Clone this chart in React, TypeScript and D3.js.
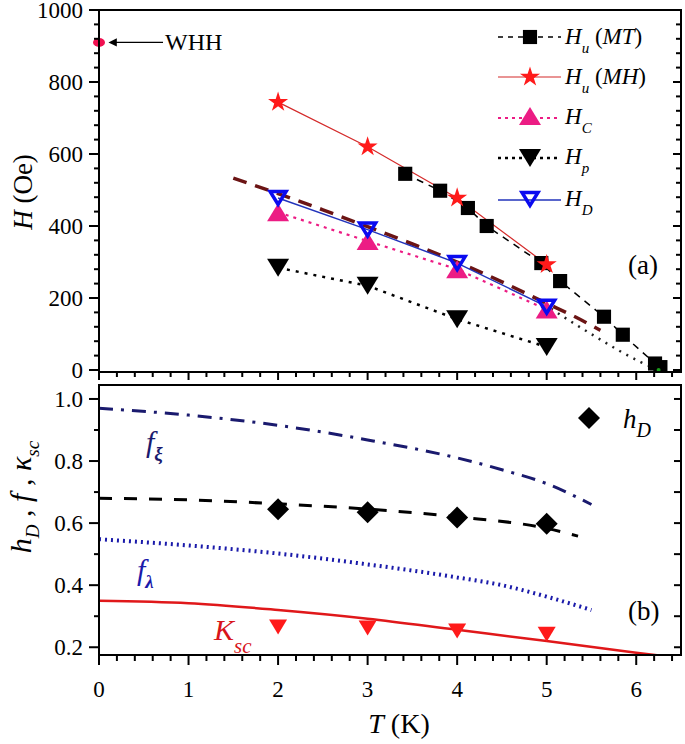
import React from 'react';
import * as d3 from 'd3';

// ---------- Top panel data (T in K, H in Oe) ----------
const huMT_T = [3.42, 3.81, 4.12, 4.33, 4.94, 5.15, 5.64, 5.85, 6.21, 6.27];
const huMT_H = [545, 498, 450, 400, 297, 247, 148, 98, 18, 8];
const pts_T = [2, 3, 4, 5];
const huMH_H = [744, 620, 478, 293];
const hc_H = [438, 358, 280, 168];
const hp_H = [284, 234, 141, 64];
const hd_H = [478, 390, 297, 176];
const fit_T = [1.5, 2, 2.5, 3, 3.5, 4, 4.5, 5, 5.3, 5.6];
const fit_H = [533, 490, 445, 398, 350, 300, 245, 185, 150, 110];
const ext_T = [5.05, 5.3, 5.55, 5.8, 6.05, 6.25];
const ext_H = [170, 130, 92, 55, 22, 0];
const whh_T = 0;
const whh_H = 910;
const yTopTicks = [0, 200, 400, 600, 800, 1000];

// ---------- Bottom panel data ----------
const curve_T = [0, 1, 2, 3, 4, 4.5, 5, 5.5];
const fxi = [0.97, 0.948, 0.915, 0.868, 0.81, 0.772, 0.727, 0.66];
const flam = [0.548, 0.528, 0.502, 0.467, 0.425, 0.4, 0.363, 0.32];
const hdFit_T = [0, 1, 2, 3, 4, 5, 5.35];
const hdFit = [0.68, 0.675, 0.662, 0.645, 0.62, 0.583, 0.558];
const hdPts = [0.645, 0.635, 0.618, 0.598];
const kap_T = [0, 1, 2, 3, 4, 5, 6, 6.5];
const kap = [0.35, 0.342, 0.32, 0.292, 0.256, 0.22, 0.182, 0.165];
const kapPts = [0.265, 0.262, 0.252, 0.242];
const yBotTicks = [0.2, 0.4, 0.6, 0.8, 1.0];
const xTicks = [0, 1, 2, 3, 4, 5, 6];

const x = d3.scaleLinear([0, 6.5], [99, 681]);
const yT = d3.scaleLinear([0, 1000], [370, 10]);
const yB = d3.scaleLinear([0.175, 1.045], [655, 385]);

const zip = (a: number[], b: number[]) => a.map((v, i) => [v, b[i]] as [number, number]);

const lineT = d3.line<[number, number]>().x(d => x(d[0])).y(d => yT(d[1]));
const curveT = d3.line<[number, number]>().x(d => x(d[0])).y(d => yT(d[1])).curve(d3.curveMonotoneX);
const curveB = d3.line<[number, number]>().x(d => x(d[0])).y(d => yB(d[1])).curve(d3.curveMonotoneX);

const sq = d3.symbol(d3.symbolSquare, 200)()!;
const star = d3.symbol(d3.symbolStar, 125)()!;
const tri = (w: number, h: number, down: boolean) =>
  down ? `M${-w / 2},${-h / 2}L${w / 2},${-h / 2}L0,${h / 2}Z` : `M${-w / 2},${h / 2}L${w / 2},${h / 2}L0,${-h / 2}Z`;
const diamond = (r: number) => `M0,${-r}L${r},0L0,${r}L${-r},0Z`;

const RED = '#ff1a1a';
const MAG = '#ec1c84';
const BLUE = '#0a0af0';
const NAVY = '#1a1a6e';

type TP = React.SVGProps<SVGTextElement>;
const T = (p: TP) => <text {...p} style={{ fontFamily: `'Liberation Serif'` }} />;

export default function App() {
  const topMinor = d3.range(0, 1001, 40);
  const botMinor = d3.range(0.2, 1.01, 0.1);
  const xMinor = d3.range(0, 6.51, 0.2);
  return (
    <svg width={685} height={744} style={{ position: 'absolute', left: 0, top: 0, background: '#fff' }}>
      <defs>
        <clipPath id="clipT"><rect x={99} y={10} width={582} height={362} /></clipPath>
        <clipPath id="clipB"><rect x={99} y={385} width={582} height={270} /></clipPath>
        <marker id="arr" viewBox="0 0 10 10" refX={1} refY={5} markerWidth={7} markerHeight={7} orient="auto-start-reverse">
          <path d="M0,0L10,5L0,10Z" fill="#000" />
        </marker>
      </defs>

      {/* ---------------- Top panel ---------------- */}
      <g clipPath="url(#clipT)">
        <path d={curveT(zip(fit_T, fit_H))!} fill="none" stroke="#6b1414" strokeWidth={3.5} strokeDasharray="14,9" />
        <path d={curveT(zip(ext_T, ext_H))!} fill="none" stroke="#222" strokeWidth={2.5} strokeDasharray="2,6" />
        <path d={lineT(zip(huMT_T, huMT_H))!} fill="none" stroke="#000" strokeWidth={1.5} strokeDasharray="7,6" />
        <path d={lineT(zip(pts_T, huMH_H))!} fill="none" stroke="#d42a2a" strokeWidth={1.2} />
        <path d={lineT(zip(pts_T, hc_H))!} fill="none" stroke={MAG} strokeWidth={2.2} strokeDasharray="3,5" />
        <path d={lineT(zip(pts_T, hp_H))!} fill="none" stroke="#000" strokeWidth={2.5} strokeDasharray="3,6" />
        <path d={lineT(zip(pts_T, hd_H))!} fill="none" stroke="#2233bb" strokeWidth={1.5} />
        {huMT_T.map((t, i) => <path key={'s' + i} d={sq} transform={`translate(${x(t)},${yT(huMT_H[i])})`} fill="#000" />)}
        {pts_T.map((t, i) => <path key={'c' + i} d={tri(22, 18, false)} transform={`translate(${x(t)},${yT(hc_H[i])})`} fill={MAG} />)}
        {pts_T.map((t, i) => <path key={'p' + i} d={tri(22, 18, true)} transform={`translate(${x(t)},${yT(hp_H[i])})`} fill="#000" />)}
        {pts_T.map((t, i) => <path key={'d' + i} d={tri(16, 13, true)} transform={`translate(${x(t)},${yT(hd_H[i])})`} fill="none" stroke={BLUE} strokeWidth={3.5} />)}
        {pts_T.map((t, i) => <path key={'m' + i} d={star} transform={`translate(${x(t)},${yT(huMH_H[i])})`} fill={RED} />)}
        <circle cx={x(6.25)} cy={yT(0)} r={2} fill="#1a9a1a" />
      </g>
      <ellipse cx={x(whh_T)} cy={yT(whh_H)} rx={6} ry={4.5} fill="#f01050" />
      <line x1={163} y1={yT(whh_H)} x2={116} y2={yT(whh_H)} stroke="#000" strokeWidth={1.2} markerEnd="url(#arr)" />
      <T x={165} y={yT(whh_H) + 8} fontSize={24}>WHH</T>

      {/* frame top */}
      <rect x={99} y={10} width={582} height={362} fill="none" stroke="#000" strokeWidth={2} />
      {topMinor.map(v => (
        <g key={'ty' + v}>
          <line x1={99} x2={v % 200 === 0 ? 89 : 94} y1={yT(v)} y2={yT(v)} stroke="#000" strokeWidth={2} />
          <line x1={681} x2={v % 200 === 0 ? 673 : 676} y1={yT(v)} y2={yT(v)} stroke="#000" strokeWidth={2} />
        </g>
      ))}
      {yTopTicks.map(v => (
        <T key={'tyl' + v} x={83} y={yT(v) + 8} fontSize={23} textAnchor="end">{v}</T>
      ))}
      {xMinor.map((t, i) => (
        <line key={'tx' + i} x1={x(t)} x2={x(t)} y1={372} y2={i % 5 === 0 ? 380 : 377} stroke="#000" strokeWidth={2} />
      ))}
      <T transform="translate(32,192) rotate(-90)" fontSize={27} textAnchor="middle">
        <tspan fontStyle="italic">H</tspan>  (Oe)
      </T>
      <T x={628} y={274} fontSize={27}>(a)</T>

      {/* legend top */}
      {[
        { y: 37, dash: '5,5', color: '#000', w: 1.5 },
        { y: 77, dash: '', color: '#d42a2a', w: 1.2 },
        { y: 118, dash: '3,4', color: MAG, w: 2.2 },
        { y: 158, dash: '3,4', color: '#000', w: 2.5 },
        { y: 200, dash: '', color: '#2233bb', w: 1.5 },
      ].map((r, i) => (
        <line key={'ll' + i} x1={498} x2={561} y1={r.y} y2={r.y} stroke={r.color} strokeWidth={r.w} strokeDasharray={r.dash || undefined} />
      ))}
      <path d={sq} transform="translate(530,37)" fill="#000" />
      <path d={star} transform="translate(530,77)" fill={RED} />
      <path d={tri(22, 18, false)} transform="translate(530,116)" fill={MAG} />
      <path d={tri(22, 18, true)} transform="translate(530,158)" fill="#000" />
      <path d={tri(16, 13, true)} transform="translate(530,199)" fill="none" stroke={BLUE} strokeWidth={3.5} />
      <T x={565} y={44} fontSize={23}>
        <tspan fontStyle="italic">H</tspan><tspan fontStyle="italic" fontSize={15} dy={9}>u</tspan><tspan dy={-9}>  (</tspan><tspan fontStyle="italic">MT</tspan>)
      </T>
      <T x={565} y={84} fontSize={23}>
        <tspan fontStyle="italic">H</tspan><tspan fontStyle="italic" fontSize={15} dy={9}>u</tspan><tspan dy={-9}>  (</tspan><tspan fontStyle="italic">MH</tspan>)
      </T>
      <T x={565} y={124} fontSize={23}>
        <tspan fontStyle="italic">H</tspan><tspan fontStyle="italic" fontSize={15} dy={9}>C</tspan>
      </T>
      <T x={565} y={164} fontSize={23}>
        <tspan fontStyle="italic">H</tspan><tspan fontStyle="italic" fontSize={15} dy={9}>p</tspan>
      </T>
      <T x={565} y={206} fontSize={23}>
        <tspan fontStyle="italic">H</tspan><tspan fontStyle="italic" fontSize={15} dy={9}>D</tspan>
      </T>

      {/* ---------------- Bottom panel ---------------- */}
      <g clipPath="url(#clipB)">
        <path d={curveB(zip(curve_T, fxi))!} fill="none" stroke={NAVY} strokeWidth={3} strokeDasharray="14,8,3,8" />
        <path d={curveB(zip(hdFit_T, hdFit))!} fill="none" stroke="#000" strokeWidth={3} strokeDasharray="13,12" />
        <path d={curveB(zip(curve_T, flam))!} fill="none" stroke="#1a1aaa" strokeWidth={4} strokeDasharray="2,4" />
        <path d={curveB(zip(kap_T, kap))!} fill="none" stroke="#e0181a" strokeWidth={2.5} />
        {pts_T.map((t, i) => <path key={'hd' + i} d={diamond(11)} transform={`translate(${x(t)},${yB(hdPts[i])})`} fill="#000" />)}
        {pts_T.map((t, i) => <path key={'k' + i} d={tri(18, 15, true)} transform={`translate(${x(t)},${yB(kapPts[i])})`} fill={RED} />)}
      </g>
      <rect x={99} y={385} width={582} height={270} fill="none" stroke="#000" strokeWidth={2} />
      {botMinor.map((v, i) => (
        <g key={'by' + i}>
          <line x1={99} x2={i % 2 === 0 ? 89 : 94} y1={yB(v)} y2={yB(v)} stroke="#000" strokeWidth={2} />
          <line x1={681} x2={674} y1={yB(v)} y2={yB(v)} stroke="#000" strokeWidth={2} />
        </g>
      ))}
      {yBotTicks.map(v => (
        <T key={'byl' + v} x={83} y={yB(v) + 8} fontSize={23} textAnchor="end">{d3.format('.1f')(v)}</T>
      ))}
      {xMinor.map((t, i) => (
        <line key={'bx' + i} x1={x(t)} x2={x(t)} y1={655} y2={i % 5 === 0 ? 665 : 661} stroke="#000" strokeWidth={2} />
      ))}
      {xTicks.map(t => (
        <T key={'bxl' + t} x={x(t)} y={697} fontSize={23} textAnchor="middle">{t}</T>
      ))}
      <T x={399} y={733} fontSize={28} textAnchor="middle">
        <tspan fontStyle="italic">T</tspan>  (K)
      </T>
      <T transform="translate(31,497) rotate(-90)" fontSize={30} textAnchor="middle">
        <tspan fontStyle="italic">h</tspan><tspan fontStyle="italic" fontSize={19} dy={8}>D</tspan><tspan dy={-8}> ,  </tspan><tspan fontStyle="italic">f</tspan> ,  <tspan fontStyle="italic">κ</tspan><tspan fontStyle="italic" fontSize={19} dy={8}>sc</tspan>
      </T>

      <path d={diamond(11)} transform="translate(589,418)" fill="#000" />
      <T x={623} y={428} fontSize={27}>
        <tspan fontStyle="italic">h</tspan><tspan fontStyle="italic" fontSize={20} dy={9}>D</tspan>
      </T>
      <T x={146} y={452} fontSize={30} fill={NAVY}>
        <tspan fontStyle="italic">f</tspan><tspan fontStyle="italic" fontWeight="bold" fontSize={19} dy={8}>ξ</tspan>
      </T>
      <T x={137} y={580} fontSize={30} fill="#1a1aaa">
        <tspan fontStyle="italic">f</tspan><tspan fontStyle="italic" fontWeight="bold" fontSize={19} dy={8}>λ</tspan>
      </T>
      <T x={214} y={640} fontSize={30} fill="#d8141a">
        <tspan fontStyle="italic">K</tspan><tspan fontStyle="italic" fontSize={21} dy={13}>sc</tspan>
      </T>
      <T x={628} y={620} fontSize={27}>(b)</T>
    </svg>
  );
}
